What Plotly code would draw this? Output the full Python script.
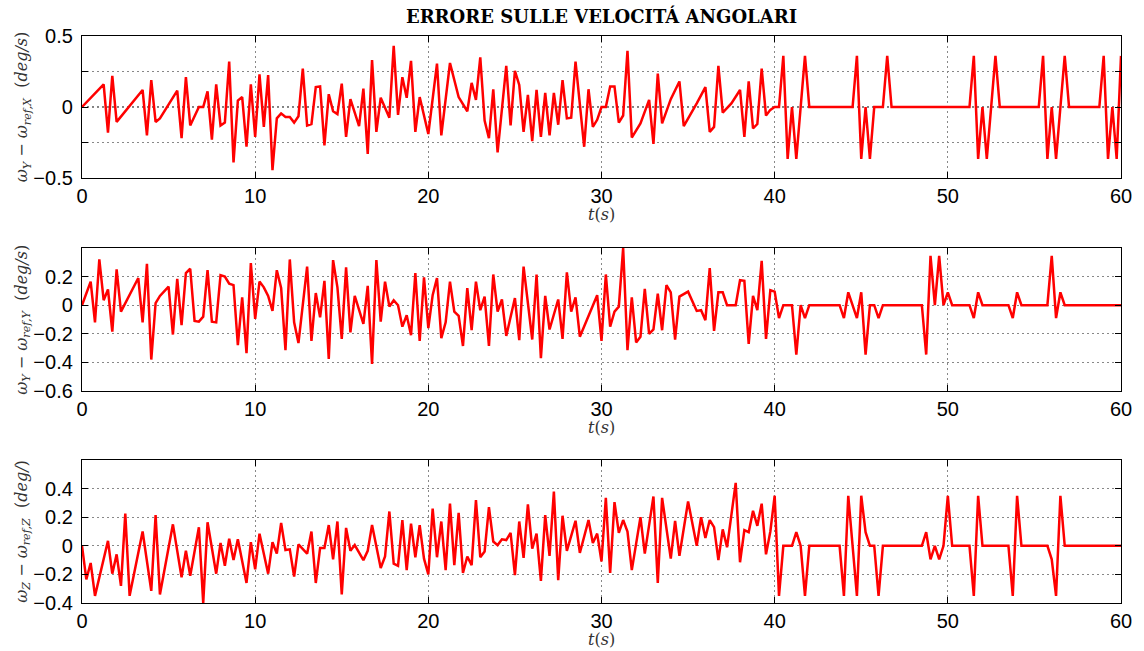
import plotly.graph_objects as go

# ---- angular-velocity error samples (deg/s), one list per body axis ----
t_x = [0, 1.25, 1.5, 1.75, 2.0, 2.5, 2.75, 3.5, 3.75, 4.0, 4.25, 4.5, 5.5, 5.75, 6.0, 6.25,
       6.75, 7.0, 7.25, 7.5, 7.75, 8.0, 8.25, 8.5, 8.75, 9.0, 9.25, 9.5, 9.75, 10.0, 10.25,
       10.5, 10.75, 11.0, 11.25, 11.5, 11.75, 12.0, 12.25, 12.5, 12.75, 13.0, 13.25, 13.5,
       13.75, 14.0, 14.25, 14.5, 14.75, 15.0, 15.25, 15.5, 16.0, 16.25, 16.5, 16.75, 17.0,
       17.25, 17.75, 18.0, 18.25, 18.5, 18.75, 19.0, 19.25, 19.5, 20.0, 20.5, 20.75, 21.25,
       21.75, 22.25, 22.5, 22.75, 23.0, 23.25, 23.5, 23.75, 24.0, 24.5, 24.75, 25.0, 25.25,
       25.5, 25.75, 26.0, 26.25, 26.5, 26.75, 27.0, 27.25, 27.5, 27.75, 28.0, 28.25, 28.5,
       29.0, 29.25, 29.5, 29.75, 30.0, 30.25, 30.5, 30.75, 31.0, 31.25, 31.5, 31.75, 32.25,
       32.75, 33.0, 33.25, 33.5, 34.0, 34.5, 34.75, 35.5, 36.0, 36.25, 36.5, 36.75, 37.0,
       37.5, 38.0, 38.25, 38.5, 38.75, 39.0, 39.25, 39.5, 39.75, 40.0, 40.25, 40.5, 40.75,
       41.0, 41.25, 41.75, 42.0, 44.5, 44.75, 45.0, 45.25, 45.5, 45.75, 46.25, 46.5, 46.75,
       51.25, 51.5, 51.75, 52.0, 52.25, 52.75, 53.0, 55.25, 55.5, 55.75, 56.0, 56.25, 56.75,
       57.0, 58.75, 59.0, 59.25, 59.5, 59.75, 60.0]
err_x = [0, 0.16, -0.18, 0.22, -0.105, -0.03, 0, 0.12, -0.2, 0.19, -0.105, -0.08, 0.115, -0.22,
         0.21, -0.13, 0, 0, 0.11, -0.23, 0.16, -0.13, -0.11, 0.32, -0.39, 0.045, 0.07, -0.28,
         0.16, -0.21, 0.23, -0.14, 0.225, -0.445, -0.08, -0.045, -0.07, -0.07, -0.11, -0.065,
         0.27, -0.13, -0.12, 0.14, 0.145, -0.27, 0.09, -0.03, -0.05, 0.165, -0.21, 0.055,
         -0.135, 0.13, -0.33, 0.33, -0.175, 0.065, -0.075, 0.43, -0.055, 0.21, 0.065, 0.325,
         -0.175, 0.07, -0.19, 0.305, -0.2, 0.31, 0.07, -0.03, 0.17, 0.05, 0.35, -0.095, -0.22,
         0.125, -0.32, 0.29, -0.13, 0.255, 0.155, -0.175, 0.085, -0.24, 0.12, -0.21, 0.1, -0.2,
         0.1, -0.125, 0.19, -0.08, -0.075, 0.32, -0.28, 0.125, -0.14, -0.09, 0, 0, 0.145, 0.145,
         -0.11, -0.06, 0.395, -0.215, -0.115, 0.05, -0.26, 0.235, -0.115, 0.055, 0.18, -0.135,
         0.025, 0.14, -0.175, -0.14, 0.29, -0.04, 0.025, 0.12, -0.21, 0.18, -0.15, -0.12, 0.27,
         -0.06, -0.02, 0, 0, 0.36, -0.365, 0, -0.365, 0.36, 0, 0, 0.36, -0.365, 0, -0.365, 0,
         0, 0.36, 0, 0, 0.36, -0.365, 0, -0.365, 0.36, 0, 0, 0.36, -0.365, 0, -0.365, 0.36, 0,
         0, 0.36, -0.365, 0, -0.365, 0.36]

t_y = [0, 0.5, 0.75, 1.0, 1.25, 1.5, 1.75, 2.0, 2.25, 3.25, 3.5, 3.75, 4.0, 4.25, 4.5, 5.0,
       5.25, 5.5, 5.75, 6.0, 6.25, 6.5, 6.75, 7.0, 7.25, 7.5, 7.75, 8.0, 8.25, 8.5, 8.75, 9.0,
       9.25, 9.5, 9.75, 10.0, 10.25, 10.5, 10.75, 11.0, 11.25, 11.5, 11.75, 12.0, 12.25, 12.5,
       13.0, 13.25, 13.5, 13.75, 14.0, 14.25, 14.5, 14.75, 15.0, 15.25, 15.5, 15.75, 16.25,
       16.5, 16.75, 17.0, 17.25, 17.5, 17.75, 18.0, 18.25, 18.5, 18.75, 19.0, 19.25, 19.5,
       19.75, 20.0, 20.25, 20.5, 20.75, 21.0, 21.25, 21.5, 21.75, 22.0, 22.25, 22.5, 22.75,
       23.0, 23.25, 23.5, 23.75, 24.0, 24.25, 24.5, 25.0, 25.25, 25.5, 26.0, 26.25, 26.5,
       26.75, 27.0, 27.5, 27.75, 28.0, 28.25, 28.5, 28.75, 29.75, 30.0, 30.25, 30.5, 30.75,
       31.0, 31.25, 31.5, 31.75, 32.0, 32.25, 32.5, 32.75, 33.0, 33.25, 33.5, 33.75, 34.0,
       34.25, 34.5, 35.0, 35.5, 35.75, 36.0, 36.25, 36.5, 36.75, 37.0, 37.25, 37.75, 38.0,
       38.25, 38.5, 38.75, 39.0, 39.25, 39.5, 39.75, 40.0, 40.25, 40.5, 41.0, 41.25, 41.5,
       41.75, 42.0, 43.75, 44.0, 44.25, 44.75, 45.0, 45.25, 45.5, 45.75, 46.0, 46.25, 48.5,
       48.75, 49.0, 49.25, 49.5, 49.75, 50.0, 50.25, 51.25, 51.5, 51.75, 52.0, 53.5, 53.75,
       54.0, 54.25, 55.75, 56.0, 56.25, 56.5, 56.75, 60.0]
err_y = [0, 0.165, -0.12, 0.32, 0.035, 0.11, -0.185, 0.25, -0.045, 0.19, -0.12, 0.29, -0.38,
         0.015, 0.065, 0.13, -0.205, 0.185, -0.14, 0.225, 0.255, -0.11, -0.115, -0.08, 0.245,
         -0.115, -0.12, 0.21, 0.2, 0.15, 0.14, -0.28, 0.055, -0.335, 0.295, -0.095, 0.165,
         0.125, 0.065, -0.04, 0.245, 0.12, -0.315, 0.32, -0.12, -0.265, 0.27, -0.25, 0.085,
         -0.085, 0.17, -0.375, 0.315, 0.125, -0.235, 0.265, -0.19, 0.065, -0.13, 0.135, -0.41,
         0.315, -0.115, 0.165, -0.01, 0.035, 0, -0.15, -0.07, -0.21, 0.225, -0.25, 0.195,
         -0.16, 0.07, 0.19, -0.23, -0.12, 0.165, -0.045, -0.075, -0.285, 0.12, -0.175, 0.165,
         -0.035, 0.06, -0.285, 0.215, -0.045, 0.04, -0.215, 0.05, -0.245, 0.27, -0.24, 0.215,
         -0.37, 0.065, -0.17, 0.04, -0.235, 0.23, -0.045, 0.055, -0.22, 0.07, -0.25, 0.215,
         -0.15, -0.045, -0.01, 0.4, -0.315, 0.055, -0.26, -0.22, 0.115, -0.2, -0.17, 0.08,
         -0.175, 0.14, 0.09, -0.24, 0.06, 0.095, -0.04, -0.035, -0.105, 0.26, -0.18, 0.09,
         0.09, 0, 0, 0.175, 0.17, -0.27, 0.065, -0.035, 0.31, -0.235, 0.105, 0.095, -0.09, 0,
         0, -0.345, 0, -0.09, 0, 0, -0.09, 0.09, -0.09, 0.09, -0.345, 0, 0, -0.09, 0, 0,
         -0.345, 0.345, 0, 0.345, 0, 0.09, 0, 0, -0.09, 0.09, 0, 0, -0.09, 0.09, 0, 0, 0.345,
         -0.09, 0.09, 0, 0]

t_z = [0, 0.25, 0.5, 0.75, 1.5, 1.75, 2.0, 2.25, 2.5, 2.75, 3.5, 4.0, 4.25, 4.5, 5.25, 5.75,
       6.0, 6.25, 6.75, 7.0, 7.25, 7.75, 8.0, 8.25, 8.5, 8.75, 9.0, 9.5, 9.75, 10.0, 10.25,
       10.75, 11.0, 11.25, 11.5, 11.75, 12.0, 12.25, 12.5, 13.0, 13.25, 13.5, 13.75, 14.0,
       14.25, 14.5, 14.75, 15.0, 15.25, 15.5, 15.75, 16.25, 16.5, 16.75, 17.25, 17.5, 17.75,
       18.0, 18.25, 18.5, 18.75, 19.0, 19.25, 19.5, 19.75, 20.0, 20.25, 20.5, 20.75, 21.0,
       21.25, 21.5, 21.75, 22.0, 22.25, 22.5, 22.75, 23.0, 23.25, 23.5, 23.75, 24.0, 24.25,
       24.5, 24.75, 25.0, 25.25, 25.5, 25.75, 26.0, 26.25, 26.5, 26.75, 27.0, 27.25, 27.5,
       27.75, 28.0, 28.5, 28.75, 29.25, 29.5, 29.75, 30.0, 30.25, 30.5, 30.75, 31.0, 31.25,
       31.5, 31.75, 32.25, 32.5, 33.0, 33.25, 33.5, 34.0, 34.25, 34.5, 35.0, 35.5, 35.75,
       36.0, 36.25, 36.5, 36.75, 37.0, 37.25, 37.75, 38.0, 38.25, 38.5, 38.75, 39.0, 39.25,
       39.5, 39.75, 40.0, 40.25, 40.5, 41.0, 41.25, 41.5, 41.75, 42.0, 43.75, 44.0, 44.25,
       44.75, 45.0, 45.25, 45.5, 45.75, 46.0, 46.25, 48.5, 48.75, 49.0, 49.25, 49.5, 49.75,
       50.0, 50.25, 51.25, 51.5, 51.75, 52.0, 53.5, 53.75, 54.0, 54.25, 55.75, 56.0, 56.25,
       56.5, 56.75, 60.0]
err_z = [0, -0.235, -0.12, -0.35, 0.035, -0.195, -0.06, -0.28, 0.225, -0.35, 0.1, -0.315,
         0.215, -0.34, 0.15, -0.22, -0.035, -0.21, 0.13, -0.4, 0.165, -0.195, 0.02, -0.14,
         0.05, -0.1, 0.045, -0.26, 0.025, -0.165, 0.085, -0.195, 0.025, -0.055, 0.16, -0.03,
         -0.025, -0.215, 0.01, -0.055, 0.1, -0.26, -0.015, -0.015, 0.145, -0.095, 0.17, -0.34,
         0.125, -0.035, 0.005, -0.1, -0.035, 0.145, -0.155, -0.075, 0.24, -0.125, -0.14, 0.18,
         -0.17, 0.155, -0.08, 0.145, -0.09, -0.2, 0.26, -0.08, 0.17, -0.17, 0.295, -0.135,
         0.23, -0.19, -0.075, -0.135, 0.32, -0.08, -0.04, 0.27, 0.03, 0.005, 0.045, 0.04, 0.09,
         -0.205, 0.17, -0.085, 0.29, -0.02, 0.085, -0.245, 0.215, -0.07, 0.38, -0.24, 0.21,
         -0.035, 0.175, -0.05, 0.18, 0.02, 0.085, -0.11, 0.335, -0.19, 0.305, 0.09, 0.18, 0.1,
         -0.17, 0.2, -0.055, 0.345, -0.26, 0.335, -0.09, 0.175, -0.07, 0.31, 0, 0.2, 0.055,
         0.18, 0.13, -0.1, 0.115, -0.01, 0.44, -0.115, 0.11, 0.095, 0.245, 0.14, 0.295, -0.06,
         0.1, 0.35, -0.35, 0, 0, 0.095, 0, -0.35, 0, 0, -0.35, 0.35, -0.35, 0.35, 0.095, 0, 0,
         -0.35, 0, 0, 0.095, -0.095, 0, -0.095, 0, 0.35, 0, 0, -0.35, 0.35, 0, 0, -0.35, 0.35,
         0, 0, -0.095, -0.35, 0.35, 0, 0]

x_ticks = [0, 10, 20, 30, 40, 50, 60]
y1_ticks = [-0.5, 0, 0.5]
y1_text = ["\u22120.5", "0", "0.5"]
y1_minor = [-0.25, 0.25]
y2_ticks = [-0.6, -0.4, -0.2, 0, 0.2]
y2_text = ["\u22120.6", "\u22120.4", "\u22120.2", "0", "0.2"]
y3_ticks = [-0.4, -0.2, 0, 0.2, 0.4]
y3_text = ["\u22120.4", "\u22120.2", "0", "0.2", "0.4"]

title_text = "ERRORE SULLE VELOCIT\u00c1 ANGOLARI"
ylabels = [
    "<i>\u03c9<sub>Y</sub></i> \u2212 <i>\u03c9<sub>ref,X</sub></i>  (<i>deg/s</i>)",
    "<i>\u03c9<sub>Y</sub></i> \u2212 <i>\u03c9<sub>ref,Y</sub></i>  (<i>deg/s</i>)",
    "<i>\u03c9<sub>Z</sub></i> \u2212 <i>\u03c9<sub>ref,Z</sub></i>  (<i>deg/</i>)",
]
xlabel = "<i>t</i>(<i>s</i>)"

W, H = 1144, 651
ML, MR, MT, MB = 82, 19, 36, 48
plot_h = H - MT - MB

# vertical pixel extents (top, bottom) of the three panels
panels = [(36, 178), (248, 391), (460, 603)]


def frac(py):
    return (H - MB - py) / plot_h


RED = "#ff0000"
tick_font = dict(family="Liberation Sans, Arial, sans-serif", size=20, color="#000")
label_font = dict(family="DejaVu Serif, serif", size=16, color="#333")
GRID = dict(gridcolor="#888", gridwidth=1, griddash="2px,3px")

fig = go.Figure()
series = [(t_x, err_x), (t_y, err_y), (t_z, err_z)]
for i, (tt, yy) in enumerate(series):
    sfx = "" if i == 0 else str(i + 1)
    fig.add_trace(go.Scatter(x=tt, y=yy, mode="lines", xaxis="x" + sfx, yaxis="y" + sfx,
                             line=dict(color=RED, width=2.5), showlegend=False,
                             hoverinfo="skip"))

common_axis = dict(showline=True, linecolor="#000", linewidth=1.3, mirror="ticks",
                   ticks="inside", ticklen=6, tickwidth=1, tickcolor="#000",
                   showgrid=True, zeroline=False, tickfont=tick_font, **GRID)

y_specs = [([-0.5, 0.5], y1_ticks, y1_text, y1_minor),
           ([-0.6, 0.4], y2_ticks, y2_text, None),
           ([-0.4, 0.6], y3_ticks, y3_text, None)]

layout = dict(width=W, height=H, margin=dict(l=ML, r=MR, t=MT, b=MB, pad=0),
              plot_bgcolor="#fff", paper_bgcolor="#fff", showlegend=False)

annotations = []
for i, ((top, bot), (yr, yt, ytx, ymin)) in enumerate(zip(panels, y_specs)):
    sfx = "" if i == 0 else str(i + 1)
    layout["xaxis" + sfx] = dict(common_axis, domain=[0, 1], range=[0, 60],
                                 tickvals=x_ticks, anchor="y" + sfx,
                                 ticklabelstandoff=0)
    yax = dict(common_axis, domain=[frac(bot), frac(top)], range=yr,
               tickvals=yt, ticktext=ytx, anchor="x" + sfx, ticklabelstandoff=4)
    if ymin:
        yax["minor"] = dict(tickvals=ymin, ticks="inside", ticklen=6, tickcolor="#000",
                            showgrid=True, **GRID)
    layout["yaxis" + sfx] = yax
    annotations.append(dict(text=ylabels[i], xref="paper", yref="paper",
                            x=(22 - ML) / (W - ML - MR), y=frac((top + bot) / 2),
                            xanchor="center", yanchor="middle", textangle=-90,
                            showarrow=False, font=label_font))
    annotations.append(dict(text=xlabel, xref="paper", yref="paper",
                            x=0.5, y=frac(bot + 36), xanchor="center", yanchor="middle",
                            showarrow=False,
                            font=dict(family="DejaVu Serif, serif", size=16, color="#333")))

# darker dotted reference line along zero in the top panel
fig.add_shape(type="line", xref="x", yref="y", x0=0, x1=60, y0=0, y1=0,
              line=dict(color="#000", width=1, dash="2px,3px"), layer="below")

layout["annotations"] = annotations
layout["title"] = dict(text="<b>" + title_text + "</b>", x=0.5, xref="paper",
                       xanchor="center", y=1 - 17 / H, yref="container", yanchor="middle",
                       font=dict(family="DejaVu Serif, serif", size=18, color="#000"))
fig.update_layout(**layout)

fig.write_html("out.html")
